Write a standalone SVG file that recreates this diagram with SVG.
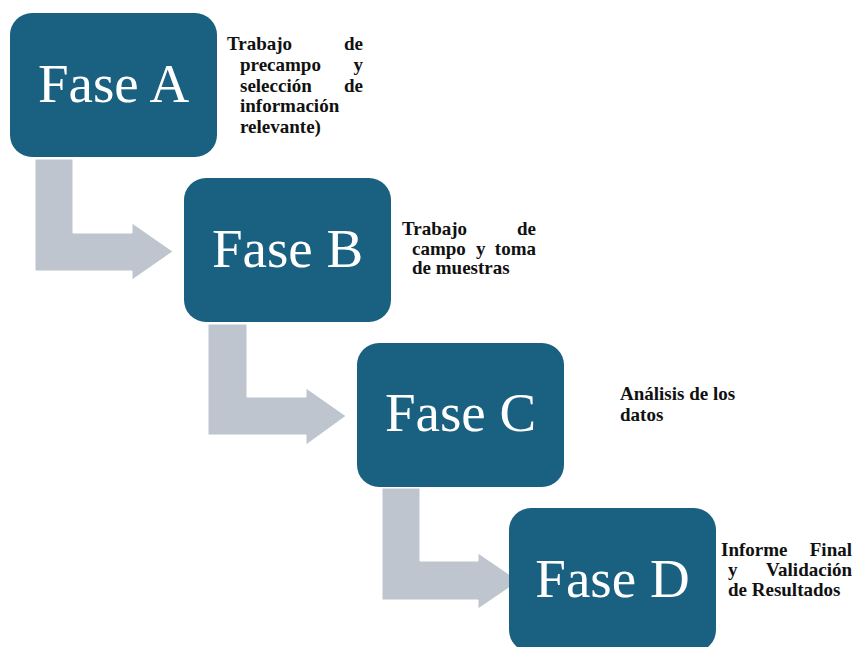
<svg xmlns="http://www.w3.org/2000/svg" width="853" height="647" viewBox="0 0 853 647">
<style>
.box{fill:#1A6081;}
.lbl{font-family:"Liberation Serif","Times New Roman",serif;font-size:55px;fill:#ffffff;text-anchor:middle;}
.note{font-family:"Liberation Serif","Times New Roman",serif;font-size:19px;font-weight:700;fill:#111111;}
.arrow{fill:#BEC5CE;stroke:#ffffff;stroke-width:1;}
.end{text-anchor:end;}
</style>
<rect width="853" height="647" fill="#ffffff"/>
<g id="connectors">
<polygon class="arrow" points="35,159 73,159 73,233 132,233 132,223 173,251.5 132,280 132,271 35,271"/>
<polygon class="arrow" points="208,324 247,324 247,397 306,397 306,388 346,416 306,445 306,435 208,435"/>
<polygon class="arrow" points="382,488 420,488 420,561 478,561 478,553 519,581 478,609 478,600 382,600"/>
</g>
<g id="fase-a">
<rect class="box" x="10" y="13" width="207" height="144" rx="22"/>
<text class="lbl" x="113.5" y="102">Fase A</text>
</g>
<g id="fase-b">
<rect class="box" x="184" y="178" width="207" height="144" rx="22"/>
<text class="lbl" x="287.5" y="267">Fase B</text>
</g>
<g id="fase-c">
<rect class="box" x="357" y="343" width="207" height="144" rx="22"/>
<text class="lbl" x="460.5" y="431">Fase C</text>
</g>
<g id="fase-d">
<rect class="box" x="509" y="508" width="207" height="144" rx="22"/>
<text class="lbl" x="612.5" y="597">Fase D</text>
</g>
<g id="note-a">
<text class="note" x="227" y="50">Trabajo</text>
<text class="note end" x="363" y="50">de</text>
<text class="note" x="240" y="71">precampo</text>
<text class="note end" x="363" y="71">y</text>
<text class="note" x="240" y="91.5">selección</text>
<text class="note end" x="363" y="91.5">de</text>
<text class="note" x="240" y="112">información</text>
<text class="note" x="240" y="133">relevante)</text>
</g>
<g id="note-b">
<text class="note" x="402" y="235">Trabajo</text>
<text class="note end" x="536" y="235">de</text>
<text class="note" x="412" y="255">campo</text>
<text class="note" x="476" y="255">y</text>
<text class="note end" x="536" y="255">toma</text>
<text class="note" x="412" y="274">de muestras</text>
</g>
<g id="note-c">
<text class="note" x="620" y="400">Análisis de los</text>
<text class="note" x="620" y="421">datos</text>
</g>
<g id="note-d">
<text class="note" x="721" y="556">Informe</text>
<text class="note end" x="852" y="556">Final</text>
<text class="note" x="728" y="576">y</text>
<text class="note end" x="852" y="576">Validación</text>
<text class="note" x="728" y="596">de Resultados</text>
</g>
</svg>
